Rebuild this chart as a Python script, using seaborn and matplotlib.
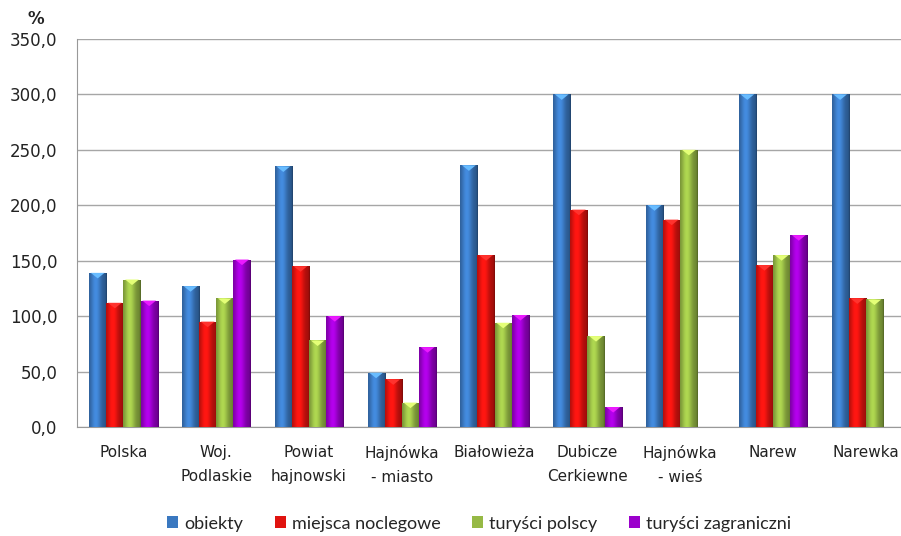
import numpy as np
import pandas as pd
import matplotlib.pyplot as plt
import matplotlib.colors as mcolors
import seaborn as sns

categories = ['Polska', 'Woj.\nPodlaskie', 'Powiat\nhajnowski', 'Hajnówka\n- miasto', 'Białowieża',
              'Dubicze\nCerkiewne', 'Hajnówka\n- wieś', 'Narew', 'Narewka']
series = ['obiekty', 'miejsca noclegowe', 'turyści polscy', 'turyści zagraniczni']
obiekty = [139, 127, 235, 49, 236, 300, 200, 300, 300]
miejsca = [112, 95, 145, 43, 155, 196, 187, 146, 116]
polscy = [133, 116, 78, 22, 94, 82, 250, 155, 115]
zagraniczni = [114, 151, 100, 72, 101, 18, np.nan, 173, np.nan]
colors = ['#3a78c0', '#e0130f', '#96b945', '#9b00cc']
yticks = [0, 50, 100, 150, 200, 250, 300, 350]

rows = []
for name, vals in zip(series, [obiekty, miejsca, polscy, zagraniczni]):
    for cat, v in zip(categories, vals):
        rows.append({'kategoria': cat, 'seria': name, 'wartosc': v})
df = pd.DataFrame(rows)

sns.set_style('white')
plt.rcParams['font.family'] = ['DejaVu Sans']

fig = plt.figure(figsize=(9.01, 5.36), dpi=100)
ax = fig.add_axes([0.0855, 0.2034, 0.927, 0.724])

sns.barplot(data=df, x='kategoria', y='wartosc', hue='seria', palette=colors,
            width=0.74, ax=ax, errorbar=None, legend=True, saturation=1,
            edgecolor='none', zorder=3)

# horizontal shading on every bar, clipped to the bar
for container, col in zip(ax.containers, colors):
    base = np.array(mcolors.to_rgb(col))
    t = np.linspace(0, 1, 60)
    shade = 0.72 + 0.45 * np.exp(-((t - 0.38) / 0.3) ** 2)
    shade[-4:] *= 0.8
    img = np.clip(base[None, :] * shade[:, None], 0, 1)[None, :, :]
    for bar in container:
        h = bar.get_height()
        if not np.isfinite(h) or h <= 0:
            continue
        x0 = bar.get_x()
        w = bar.get_width()
        im = ax.imshow(img, extent=(x0, x0 + w, 0, h), aspect='auto', zorder=4,
                       interpolation='bilinear')
        im.set_clip_path(bar)
        # light bevel at the top
        tri = plt.Polygon([[x0 + w * 0.1, h], [x0 + w * 0.9, h], [x0 + w * 0.5, h - 5]],
                          closed=True, color=np.clip(base * 1.35 + 0.1, 0, 1), zorder=5, lw=0)
        ax.add_patch(tri)

ax.set_xlim(-0.5, len(categories) - 0.5)
ax.set_ylim(0, 350)
ax.set_yticks(yticks)
ax.set_yticklabels([f'{v:.1f}'.replace('.', ',') for v in yticks], fontsize=12, color='#222222')
ax.set_xticks(range(len(categories)))
ax.set_xticklabels(categories, fontsize=11, linespacing=1.75, color='#222222')
ax.set_xticks(np.arange(-0.5, len(categories), 1), minor=True)
ax.tick_params(axis='x', which='major', length=0, pad=13)
ax.tick_params(axis='x', which='minor', length=6, color='#999999', width=1, direction='out')
ax.tick_params(axis='y', length=6, color='#999999', width=1, direction='out', pad=8)
ax.set_xlabel('')
ax.set_ylabel('')
ax.grid(axis='y', color='#a6a6a6', linewidth=1)
ax.set_axisbelow(True)
for side in ['top', 'right']:
    ax.spines[side].set_visible(False)
ax.spines['left'].set_color('#999999')
ax.spines['bottom'].set_color('#999999')

fig.text(0.031, 0.955, '%', fontsize=12, fontweight='bold', color='#222222')

handles, labels = ax.get_legend_handles_labels()
ax.legend_.remove()
fig.legend(handles, labels, loc='lower center', bbox_to_anchor=(0.532, -0.022), ncol=4,
           frameon=False, handlelength=0.6, handleheight=0.6, handletextpad=0.35,
           columnspacing=1.75, prop={'family': 'Lato', 'size': 13})

fig.savefig('out.png', dpi=100)
